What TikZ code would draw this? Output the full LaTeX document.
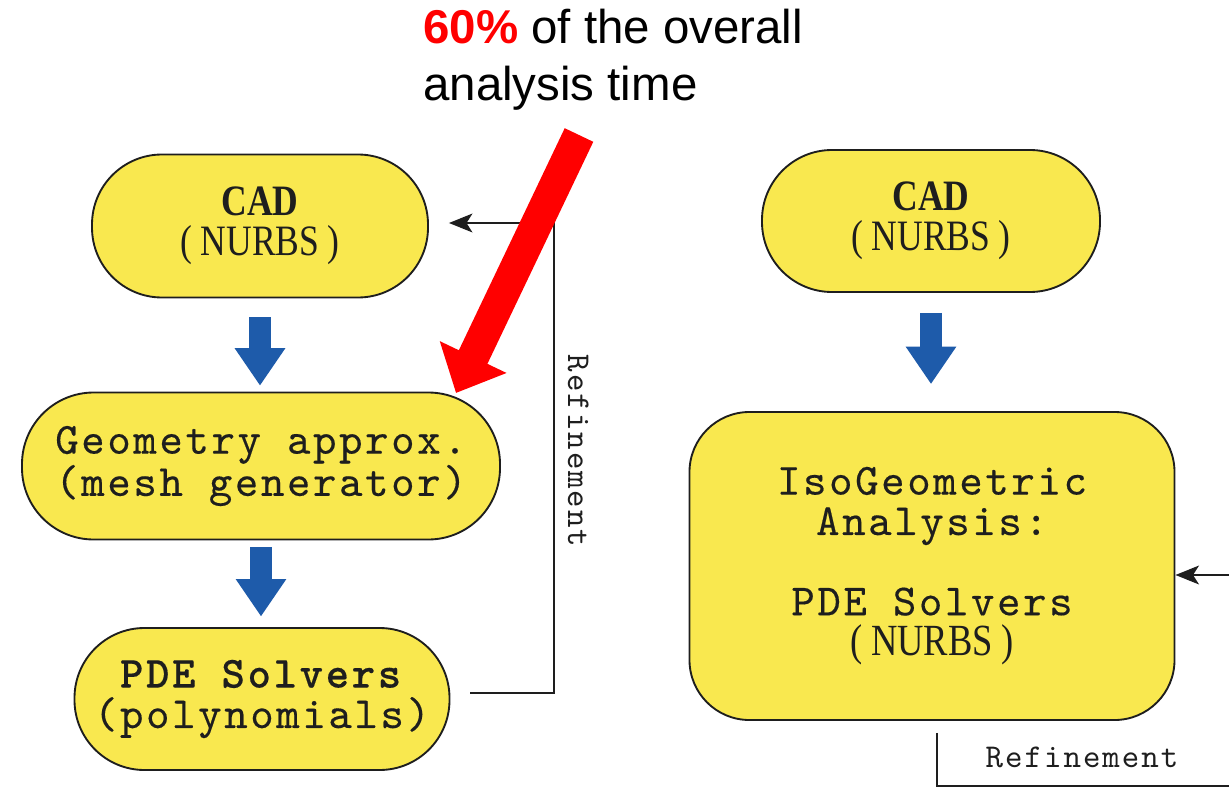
\documentclass[tikz,border=0pt]{standalone}
\usepackage{fontspec}
\setmainfont{Liberation Serif}
\newfontfamily\monof{lmmono10-regular.otf}[FakeBold=0.3, LetterSpace=6, BoldFont=lmmonolt10-bold.otf]
\newfontfamily\labelf{lmmono10-regular.otf}[LetterSpace=6]
\newfontfamily\sansf{Liberation Sans}
\newfontfamily\cadf[FakeStretch=0.82]{Liberation Serif}
\usetikzlibrary{arrows.meta,calc}
\definecolor{boxyellow}{RGB}{249,232,79}
\definecolor{arrowblue}{RGB}{30,91,170}
\definecolor{ink}{RGB}{30,30,30}
\begin{document}
\begin{tikzpicture}[x=0.03cm,y=-0.03cm,
  box/.style={draw=ink, line width=1.6pt, fill=boxyellow, inner sep=0pt, align=center, text=ink},
  monotext/.style={font=\monof\fontsize{38}{34.5}\selectfont},
  cadtext/.style={font=\cadf\fontsize{37}{34}\selectfont},
  flow/.style={arrowblue, line width=18.7pt, -{Triangle[width=41pt,length=32pt]}},
  refl/.style={ink, line width=2pt},
  refarrow/.style={refl, -{Stealth[length=20pt,width=16pt,inset=5pt]}},
  reflabel/.style={font=\labelf\fontsize{28.4}{30}\selectfont, text=ink, inner sep=0pt}]

\useasboundingbox (0,0) rectangle (1229,787);

% left column
\node[box, cadtext, minimum width=10.08cm, minimum height=4.29cm, rounded corners=2.1cm] (cad1) at (260,226)
  {\textbf{CAD}\\(\hspace{0.2em}NURBS\hspace{0.2em})};
\node[box, monotext, minimum width=14.34cm, minimum height=4.41cm, rounded corners=2.15cm] (geo) at (261,466)
  {Geometry approx.\\(mesh generator)};
\node[box, monotext, minimum width=11.25cm, minimum height=4.26cm, rounded corners=2.1cm] (pde) at (262,699)
  {\textbf{PDE Solvers}\\(polynomials)};

% right column
\node[box, cadtext, minimum width=10.14cm, minimum height=4.26cm, rounded corners=2.1cm] (cad2) at (931,221)
  {\textbf{CAD}\\(\hspace{0.2em}NURBS\hspace{0.2em})};
\node[box, monotext, minimum width=14.55cm, minimum height=9.24cm, rounded corners=1.8cm] (iga) at (932,566)
  {IsoGeometric\\Analysis:\\[34pt]PDE Solvers\\{\cadf (\hspace{0.2em}NURBS\hspace{0.2em})}};

% blue flow arrows
\draw[flow, shorten <=16pt, shorten >=5pt] (cad1.south) -- (cad1.south |- geo.north);
\draw[flow, shorten <=6pt, shorten >=9pt] (geo.south) -- (geo.south |- pde.north);
\draw[flow, shorten <=17pt, shorten >=23pt] (cad2.south) -- (cad2.south |- iga.north);

% refinement loops
\draw[refarrow] ($(pde.east)+(20,-6)$) -| ($(cad1.east)+(125,-3)$) -- ($(cad1.east)+(20,-3)$);
\node[reflabel, rotate=-90, anchor=base] (ref1) at (568,451) {Refinement};

\draw[refarrow] ($(iga.east)+(54.5,9)$) -- ($(iga.east)+(0,9)$);
\draw[refl] ($(iga.south)+(5,12)$) |- ($(iga.south)+(297,65)$);
\node[reflabel, anchor=base] (ref2) at (1082,767) {Refinement};

% annotation
\node[anchor=base west, align=left, inner sep=0pt, font=\sansf\fontsize{40.5}{48.5}\selectfont] (note) at (423,100)
  {\textcolor{red}{\textbf{60\%}} of the overall\\analysis time};
\coordinate (redtail) at (579,135);
\coordinate (redtip) at (456,393);
\draw[red, line width=27pt, -{Triangle[width=61pt,length=34pt]}] (redtail) -- (redtip);

\end{tikzpicture}
\end{document}
